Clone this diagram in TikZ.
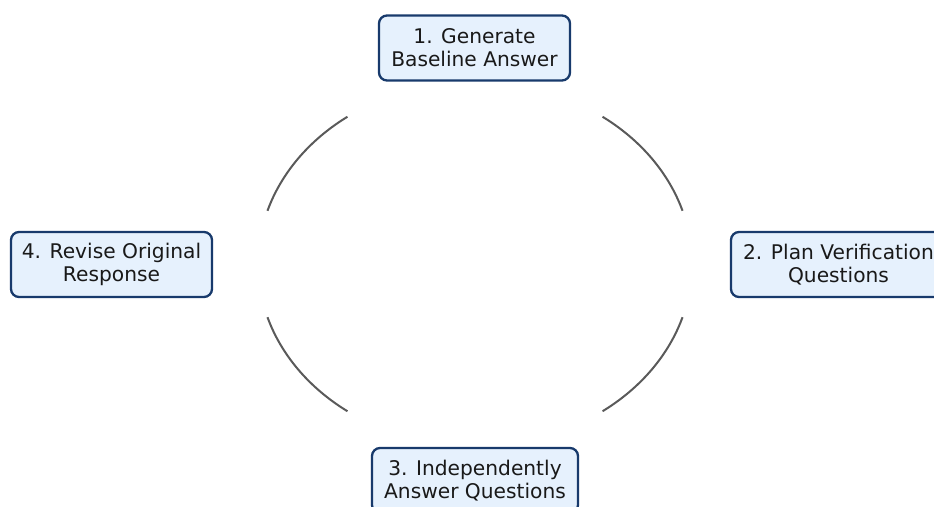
\documentclass[tikz,border=0pt]{standalone}
\usepackage{fontspec}
\setmainfont{DejaVu Sans}
\definecolor{boxborder}{RGB}{24,58,108}
\definecolor{boxfill}{RGB}{230,241,253}
\definecolor{arcgray}{RGB}{90,90,90}
\tikzset{
  stepbox/.style={draw=boxborder, fill=boxfill, line width=2.3pt, rounded corners=8pt,
    align=center, inner sep=0pt, minimum height=65pt, text=black!90,
    font=\fontsize{20.2pt}{23pt}\selectfont},
  cyclearc/.style={draw=arcgray, line width=2pt}
}
\begin{document}
\begin{tikzpicture}[x=1pt,y=1pt]
\useasboundingbox (0,0) rectangle (934,506);
\clip (0,0) rectangle (934,506);
\coordinate (c) at (475,242);
\node[stepbox, minimum width=191pt] (n1) at (474.5,458) {1. Generate\\Baseline Answer};
\node[stepbox, minimum width=215pt] (n2) at (838.5,241.5) {2. Plan Verification\\Questions};
\node[stepbox, minimum width=206pt] (n3) at (475,25.5) {3. Independently\\Answer Questions};
\node[stepbox, minimum width=201pt] (n4) at (111.5,241.5) {4. Revise Original\\Response};
\draw[cyclearc] (c) ++(54:217 and 182) arc[start angle=54, end angle=17, x radius=217, y radius=182];
\draw[cyclearc] (c) ++(-17:217 and 182) arc[start angle=-17, end angle=-54, x radius=217, y radius=182];
\draw[cyclearc] (c) ++(-126:217 and 182) arc[start angle=-126, end angle=-163, x radius=217, y radius=182];
\draw[cyclearc] (c) ++(163:217 and 182) arc[start angle=163, end angle=126, x radius=217, y radius=182];
\end{tikzpicture}
\end{document}
